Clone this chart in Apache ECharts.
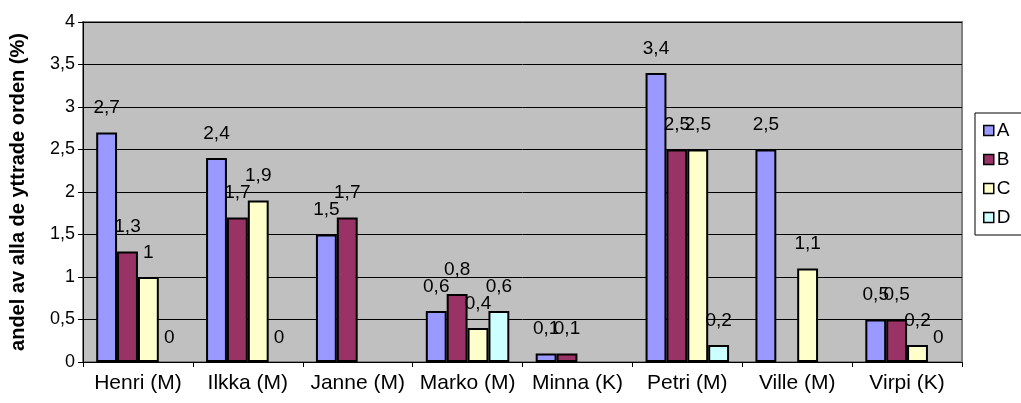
<!DOCTYPE html>
<html>
<head>
<meta charset="utf-8">
<script src="https://cdn.jsdelivr.net/npm/echarts@6/dist/echarts.min.js"></script>
<style>html,body{margin:0;padding:0;background:#fff;}#c{width:1021px;height:403px;}</style>
</head>
<body>
<div id="c"></div>
<script>
const categories = ['Henri (M)', 'Ilkka (M)', 'Janne (M)', 'Marko (M)', 'Minna (K)', 'Petri (M)', 'Ville (M)', 'Virpi (K)'];
const seriesNames = ['A', 'B', 'C', 'D'];
const valuesA = [2.7, 2.4, 1.5, 0.6, 0.1, 3.4, 2.5, 0.5];
const valuesB = [1.3, 1.7, 1.7, 0.8, 0.1, 2.5, null, 0.5];
const valuesC = [1.0, 1.9, null, 0.4, null, 2.5, 1.1, 0.2];
const valuesD = [0, 0, null, 0.6, null, 0.2, null, 0];
const yTicks = [0, 0.5, 1, 1.5, 2, 2.5, 3, 3.5, 4];
const colors = ['#9999FF', '#993366', '#FFFFCC', '#CCFFFF'];
const allValues = [valuesA, valuesB, valuesC, valuesD];

const fmt = v => String(v).replace('.', ',');
const chart = echarts.init(document.getElementById('c'));
const FONT = 'Liberation Sans';
chart.setOption({
  animation: false,
  textStyle: { fontFamily: FONT },
  grid: { left: 83, right: 59, top: 22, bottom: 41, show: true, backgroundColor: '#C0C0C0', borderColor: '#808080', borderWidth: 2 },
  legend: {
    orient: 'vertical', left: 975, top: 113,
    data: seriesNames,
    icon: 'rect', itemWidth: 10, itemHeight: 10, itemGap: 10,
    padding: [8, 30, 8, 8],
    borderColor: '#000', borderWidth: 1,
    textStyle: { fontSize: 19, color: '#000', fontFamily: FONT, padding: [0, 0, 0, -2] },
    itemStyle: { borderColor: '#000', borderWidth: 1.5 }
  },
  xAxis: {
    type: 'category', data: categories,
    axisLine: { lineStyle: { color: '#000', width: 1 } },
    axisTick: { show: true, length: 5, lineStyle: { color: '#000' } },
    axisLabel: { interval: 0, fontSize: 21, color: '#000', margin: 11, fontFamily: FONT },
    splitLine: { show: false }
  },
  yAxis: {
    type: 'value', min: yTicks[0], max: yTicks[yTicks.length - 1], interval: 0.5,
    name: 'andel av alla de yttrade orden (%)', nameLocation: 'middle', nameGap: 55, nameRotate: 90,
    nameTextStyle: { fontSize: 20, fontWeight: 'bold', color: '#000', fontFamily: FONT },
    axisLine: { show: true, lineStyle: { color: '#000', width: 1 } },
    axisTick: { show: true, length: 5, lineStyle: { color: '#000' } },
    axisLabel: { fontSize: 18, color: '#000', margin: 8, formatter: v => fmt(v), fontFamily: FONT },
    splitLine: { show: true, lineStyle: { color: '#000', width: 1 } }
  },
  series: allValues.map((vals, i) => ({
    name: seriesNames[i], type: 'bar',
    data: vals.map(v => v === 0 ? { value: 0, itemStyle: { borderWidth: 0 } } : v),
    barGap: '0%', barCategoryGap: '24%',
    itemStyle: { color: colors[i], borderColor: '#000', borderWidth: 2 },
    label: { show: true, position: 'top', distance: 15, fontSize: 19, color: '#000', fontFamily: FONT,
      formatter: p => p.value == null ? '' : fmt(p.value) }
  }))
});
</script>
</body>
</html>
